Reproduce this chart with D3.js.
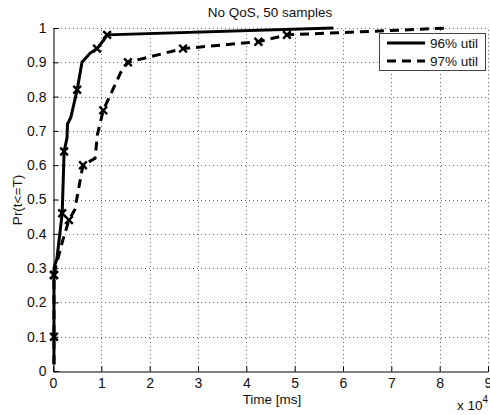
<!DOCTYPE html>
<html>
<head>
<meta charset="utf-8">
<script src="https://cdn.jsdelivr.net/npm/d3@7"></script>
<style>
  body { margin: 0; background: #fff; }
  svg { font-family: "Liberation Sans", Arial, sans-serif; }
</style>
</head>
<body>
<div id="chart"></div>
<script>
// time in units of 1e4 ms, probability
const solidT = [0.02, 0.02, 0.02, 0.02, 0.08, 0.15, 0.19, 0.21, 0.23, 0.29, 0.30, 0.37, 0.50, 0.60, 0.77, 0.91, 1.05, 1.12, 5.8];
const solidP = [0.02, 0.10, 0.28, 0.30, 0.327, 0.41, 0.46, 0.55, 0.64, 0.68, 0.72, 0.74, 0.82, 0.90, 0.927, 0.94, 0.965, 0.98, 1.0];
const solidMark = [0, 1, 1, 0, 0, 0, 1, 0, 1, 0, 0, 0, 1, 0, 0, 1, 0, 1, 0];

const dashT = [0.02, 0.02, 0.05, 0.20, 0.33, 0.45, 0.62, 0.87, 0.92, 1.04, 1.40, 1.55, 2.69, 4.25, 4.84, 8.2];
const dashP = [0.02, 0.28, 0.30, 0.38, 0.44, 0.47, 0.60, 0.62, 0.69, 0.76, 0.87, 0.90, 0.94, 0.96, 0.98, 1.0];
const dashMark = [0, 1, 0, 0, 1, 0, 1, 0, 0, 1, 0, 1, 1, 1, 1, 0];

const xTicks = [0, 1, 2, 3, 4, 5, 6, 7, 8, 9];
const yTicks = [0, 0.1, 0.2, 0.3, 0.4, 0.5, 0.6, 0.7, 0.8, 0.9, 1];
const legendLabels = ["96% util", "97% util"];

const W = 490, H = 415;
const margin = {left: 53, right: 2, top: 28, bottom: 44};

const svg = d3.select("#chart").append("svg")
  .attr("width", W).attr("height", H);

const x = d3.scaleLinear().domain([0, 9]).range([margin.left, W - margin.right]);
const y = d3.scaleLinear().domain([0, 1]).range([H - margin.bottom, margin.top]);

// grid
const grid = svg.append("g").attr("stroke", "#666").attr("stroke-width", 1)
  .attr("stroke-dasharray", "1,3");
grid.selectAll(".gx").data(xTicks.slice(1)).enter().append("line")
  .attr("x1", d => Math.round(x(d)) + 0.5).attr("x2", d => Math.round(x(d)) + 0.5)
  .attr("y1", y(0)).attr("y2", y(1));
grid.selectAll(".gy").data(yTicks.slice(1)).enter().append("line")
  .attr("y1", d => Math.round(y(d)) + 0.5).attr("y2", d => Math.round(y(d)) + 0.5)
  .attr("x1", x(0)).attr("x2", x(9));

// axes
const xAxis = svg.append("g")
  .attr("transform", "translate(0," + (Math.round(y(0)) + 0.5) + ")")
  .call(d3.axisBottom(x).tickValues(xTicks).tickSize(-5).tickPadding(7).tickFormat(d3.format("d")));
const yAxis = svg.append("g")
  .attr("transform", "translate(" + (Math.round(x(0)) + 0.5) + ",0)")
  .call(d3.axisLeft(y).tickValues(yTicks).tickSize(-5).tickPadding(7).tickFormat(d => d === 0 || d === 1 ? String(d) : d.toFixed(1)));
[xAxis, yAxis].forEach(a => {
  a.select(".domain").attr("stroke", "#000");
  a.selectAll(".tick line").attr("stroke", "#000");
  a.selectAll(".tick text").attr("font-size", 14).attr("fill", "#111")
    .attr("font-family", "'Liberation Sans', Arial, sans-serif");
});

// lines
const lineGen = (T, P) => d3.line().x((d, i) => x(T[i])).y((d, i) => y(P[i]))(T);

svg.append("path").attr("d", lineGen(dashT, dashP))
  .attr("fill", "none").attr("stroke", "#000").attr("stroke-width", 3)
  .attr("stroke-dasharray", "9,6");
svg.append("path").attr("d", lineGen(solidT, solidP))
  .attr("fill", "none").attr("stroke", "#000").attr("stroke-width", 3);

const sym = d3.symbol().type(d3.symbolTimes).size(40);
function marks(T, P, M) {
  svg.append("g").selectAll("path").data(T.map((t, i) => i).filter(i => M[i]))
    .enter().append("path")
    .attr("d", sym)
    .attr("transform", i => "translate(" + x(T[i]) + "," + y(P[i]) + ")")
    .attr("fill", "none").attr("stroke", "#000").attr("stroke-width", 2.4);
}
marks(dashT, dashP, dashMark);
marks(solidT, solidP, solidMark);

// title and labels
svg.append("text").attr("x", 270).attr("y", 17).attr("text-anchor", "middle")
  .attr("font-size", 13.5).attr("fill", "#111").text("No QoS, 50 samples");
svg.append("text").attr("x", 272).attr("y", 404).attr("text-anchor", "middle")
  .attr("font-size", 13.5).attr("fill", "#111").text("Time [ms]");
svg.append("text").attr("transform", "translate(22,200) rotate(-90)").attr("text-anchor", "middle")
  .attr("font-size", 13.5).attr("fill", "#111").text("Pr(t<=T)");
const ex = svg.append("text").attr("x", 457).attr("y", 410).attr("font-size", 13.5).attr("fill", "#111");
ex.append("tspan").text("x 10");
ex.append("tspan").attr("dy", -7).attr("font-size", 10).text("4");

// legend
const lg = svg.append("g");
lg.append("rect").attr("x", 379.5).attr("y", 33.5).attr("width", 106).attr("height", 37)
  .attr("fill", "#fff").attr("stroke", "#444");
legendLabels.forEach((lab, i) => {
  const ly = 43 + i * 18;
  lg.append("line").attr("x1", 387).attr("x2", 425).attr("y1", ly).attr("y2", ly)
    .attr("stroke", "#000").attr("stroke-width", 3)
    .attr("stroke-dasharray", i === 1 ? "9,6" : null);
  lg.append("text").attr("x", 430).attr("y", ly + 5).attr("font-size", 13.5)
    .attr("fill", "#111").text(lab);
});
</script>
</body>
</html>
